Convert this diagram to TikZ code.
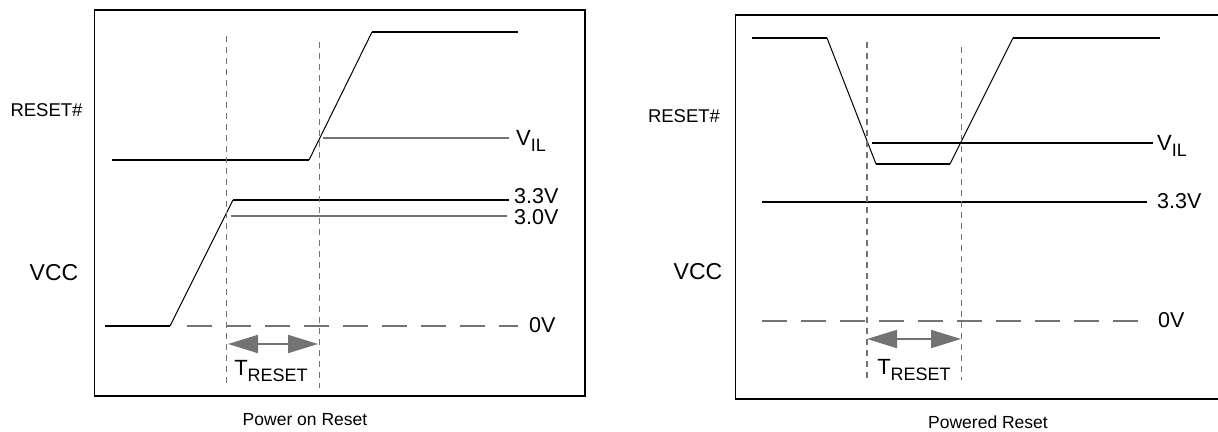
\documentclass[tikz,border=0pt]{standalone}
\usepackage{xcolor}
\usepackage{fontspec}
\setmainfont{Liberation Sans}
\usepackage{tikz}
\usetikzlibrary{arrows.meta}
\definecolor{trace}{gray}{0.45}
\tikzstyle{centered} = [align=center, text centered]
\tikzstyle{empty} = [centered, inner sep=0pt]
\tikzstyle{frame} = [line width=1.8pt]
\tikzstyle{signal} = [line width=1.7pt]
\tikzstyle{edge} = [line width=1pt]
\tikzstyle{level} = [line width=1.3pt, trace]
\tikzstyle{ground} = [line width=1.4pt, trace, dash pattern=on 25pt off 14pt]
\tikzstyle{marker} = [line width=1.2pt, trace, dash pattern=on 6pt off 5pt]
\tikzstyle{span} = [line width=2pt, trace, {Triangle[length=30pt,width=18pt]}-{Triangle[length=30pt,width=18pt]}]
\newcommand{\sig}[1]{\fontsize{18.5}{18.5}\selectfont #1}
\newcommand{\railtxt}[1]{\fontsize{23}{23}\selectfont #1}
\newcommand{\volt}[1]{\fontsize{21.5}{21.5}\selectfont #1}
\newcommand{\capt}[1]{\fontsize{17.5}{17.5}\selectfont #1}
\newcommand{\subs}[2]{\fontsize{22}{22}\selectfont #1\raisebox{-6pt}{\fontsize{18}{18}\selectfont #2}}

\begin{document}
\begin{tikzpicture}
    [x=1pt,y=-1pt]
      \useasboundingbox (0,0) rectangle (1218,431);
      % power on reset
      \draw [frame] (94.5,10) rectangle (585,396);
      \node [empty](rsl) at (46.5,110) {\sig{RESET\#}};
      \node [empty](vccl) at (54,273) {\railtxt{VCC}};
      \coordinate (a0) at (112,160);
      \coordinate (a1) at (309,160);
      \coordinate (a2) at (372,32);
      \coordinate (a3) at (518,32);
      \coordinate (v0) at (105,326);
      \coordinate (v1) at (170,326);
      \coordinate (v2) at (233,200);
      \coordinate (v3) at (509,200);
      \coordinate (il0) at (323,138);
      \coordinate (il1) at (509,138);
      \coordinate (t0) at (231,216);
      \coordinate (t1) at (507,216);
      \coordinate (g0) at (187,326);
      \coordinate (g1) at (518,326);
      \coordinate (m0) at (226.5,36);
      \coordinate (m1) at (226.5,383);
      \coordinate (n0) at (319.5,42);
      \coordinate (n1) at (319.5,388);
      \coordinate (w0) at (228,344);
      \coordinate (w1) at (318,344);
      \node [empty, anchor=west](vil) at (516,141) {\subs{V}{IL}};
      \node [empty, anchor=west](v33) at (514,196.5) {\volt{3.3V}};
      \node [empty, anchor=west](v30) at (514,217.5) {\volt{3.0V}};
      \node [empty, anchor=west](v00) at (529,325) {\volt{0V}};
      \node [empty](tr) at (271,371) {\subs{T}{RESET}};
      \node [empty](cap) at (305,420) {\capt{Power on Reset}};

      \foreach \from/\to in {a0/a1,a2/a3,v0/v1,v2/v3}
        \draw [signal] (\from) -- (\to);
      \foreach \from/\to in {a1/a2,v1/v2}
        \draw [edge] (\from) -- (\to);
      \foreach \from/\to in {il0/il1,t0/t1}
        \draw [level] (\from) -- (\to);
      \foreach \from/\to in {m0/m1,n0/n1}
        \draw [marker] (\from) -- (\to);
      \draw [ground] (g0) -- (g1);
      \draw [span] (w0) -- (w1);

      % powered reset
      \draw [frame] (735.5,15) rectangle (1224,399);
      \node [empty](rsr) at (684,116) {\sig{RESET\#}};
      \node [empty](vccr) at (698,272) {\railtxt{VCC}};
      \coordinate (b0) at (752,38);
      \coordinate (b1) at (827,38);
      \coordinate (b2) at (876,164);
      \coordinate (b3) at (950,164);
      \coordinate (b4) at (1013,38);
      \coordinate (b5) at (1160,38);
      \coordinate (c0) at (762,202);
      \coordinate (c1) at (1147,202);
      \coordinate (jl0) at (872,143);
      \coordinate (jl1) at (1153,143);
      \coordinate (h0) at (762,321);
      \coordinate (h1) at (1151,321);
      \coordinate (p0) at (867,42);
      \coordinate (p1) at (867,380);
      \coordinate (q0) at (961.5,47);
      \coordinate (q1) at (961.5,380);
      \coordinate (z0) at (867,339);
      \coordinate (z1) at (961,339);
      \node [empty, anchor=west](vilr) at (1157,146) {\subs{V}{IL}};
      \node [empty, anchor=west](v33r) at (1157,201) {\volt{3.3V}};
      \node [empty, anchor=west](v00r) at (1158,320) {\volt{0V}};
      \node [empty](trr) at (914,370) {\subs{T}{RESET}};
      \node [empty](capr) at (988,422) {\capt{Powered Reset}};

      \foreach \from/\to in {b0/b1,b2/b3,b4/b5,c0/c1,jl0/jl1}
        \draw [signal] (\from) -- (\to);
      \foreach \from/\to in {b1/b2,b3/b4}
        \draw [edge] (\from) -- (\to);
      \foreach \from/\to in {p0/p1,q0/q1}
        \draw [marker] (\from) -- (\to);
      \draw [ground] (h0) -- (h1);
      \draw [span] (z0) -- (z1);

    \end{tikzpicture}
\end{document}
